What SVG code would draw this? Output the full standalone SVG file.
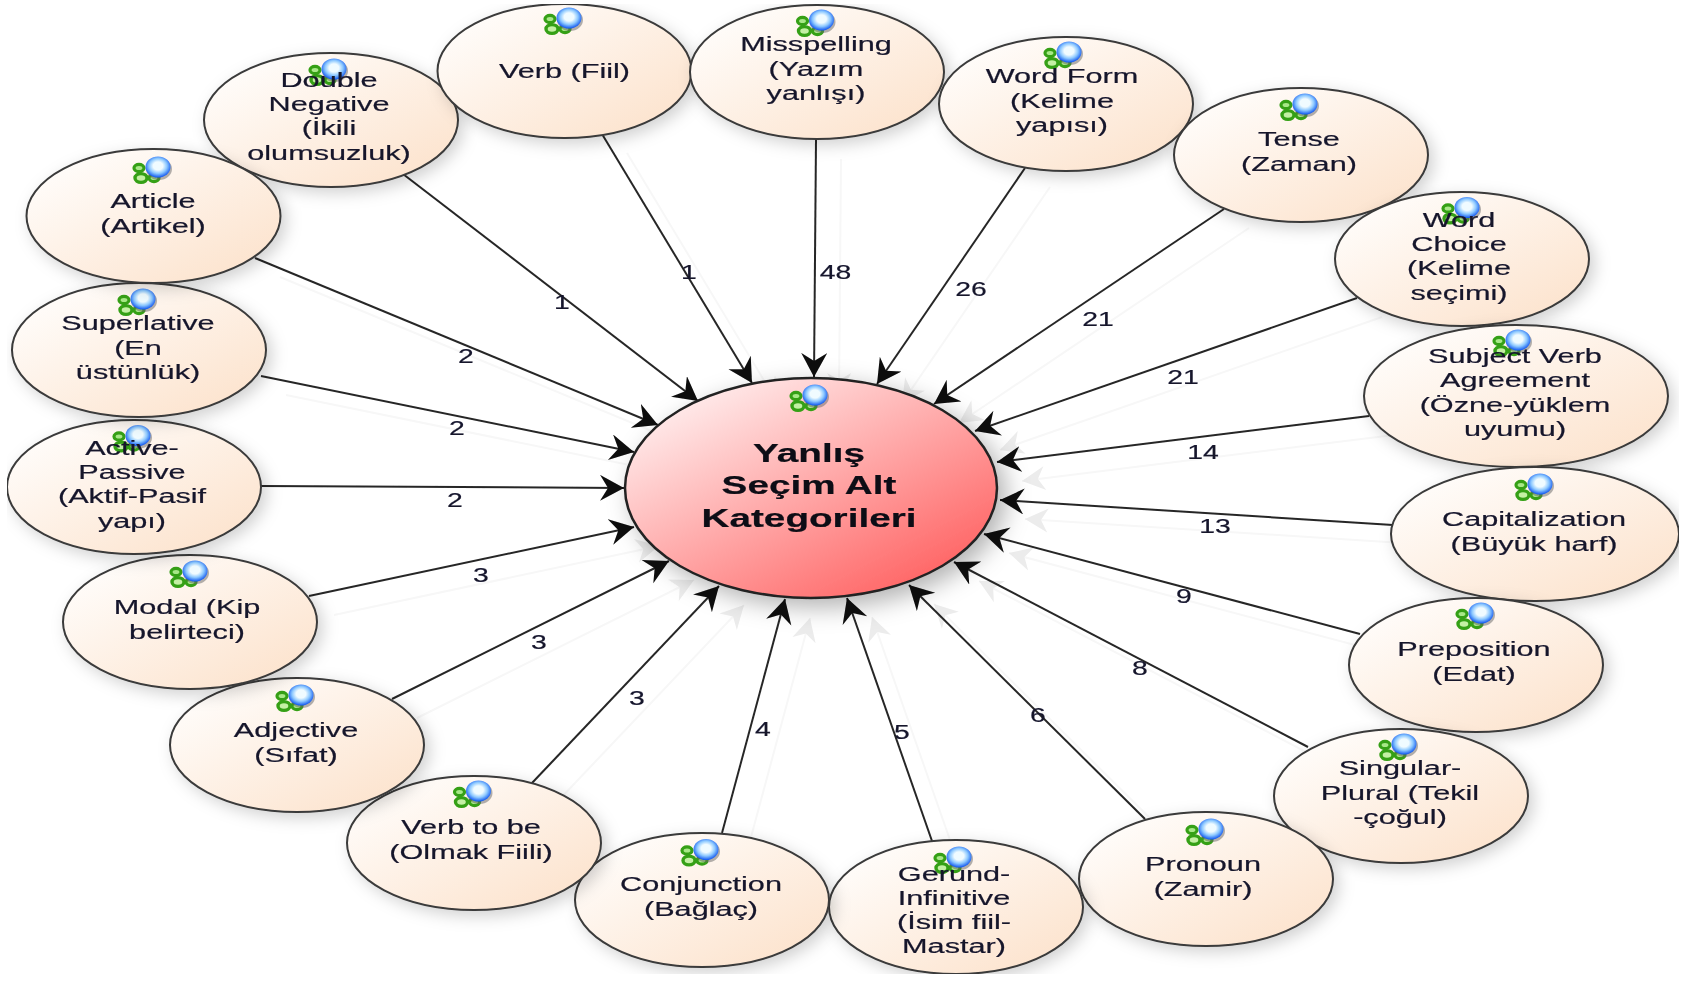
<svg xmlns="http://www.w3.org/2000/svg" xmlns:xlink="http://www.w3.org/1999/xlink" width="1686" height="987" viewBox="0 0 1686 987">
<style>
text{font-family:"Liberation Sans",Arial,sans-serif;font-size:21px;fill:#14142c;stroke:#14142c;stroke-width:0.2;text-anchor:middle}
.n{fill:url(#ng);stroke:#3a3a3a;stroke-width:2;filter:url(#sh)}
.c{fill:url(#cg);stroke:#222;stroke-width:2.5;filter:url(#sh2)}
.e line{stroke:#262626;stroke-width:2;marker-end:url(#a)}
.g line{stroke:#f7f7f7;stroke-width:2;marker-end:url(#ag)}
.t{font-weight:bold;font-size:26.5px;fill:#0c0c14;stroke:#0c0c14}
</style>
<defs>
<linearGradient id="ng" x1="0" y1="0" x2="1" y2="1"><stop offset="0.1" stop-color="#fffdfb"/><stop offset="1" stop-color="#fce0c8"/></linearGradient>
<linearGradient id="cg" x1="0.1" y1="0.05" x2="0.9" y2="0.95"><stop offset="0" stop-color="#fff4f4"/><stop offset="1" stop-color="#ff5c5c"/></linearGradient>
<radialGradient id="bl" cx="0.5" cy="0.45" r="0.55"><stop offset="0.35" stop-color="#f0fbff"/><stop offset="0.65" stop-color="#8cc8ff"/><stop offset="1" stop-color="#0f55f0"/></radialGradient>
<filter id="sh" x="-20%" y="-20%" width="150%" height="150%"><feDropShadow dx="5" dy="5" stdDeviation="8" flood-color="#000" flood-opacity="0.18"/></filter>
<filter id="sh2" x="-20%" y="-20%" width="150%" height="150%"><feDropShadow dx="8" dy="8" stdDeviation="12" flood-color="#000" flood-opacity="0.3"/></filter>
<filter id="soft" x="0" y="0" width="100%" height="100%"><feGaussianBlur stdDeviation="0.55"/></filter>
<marker id="a" markerUnits="userSpaceOnUse" markerWidth="30" markerHeight="30" refX="24" refY="13" orient="auto"><path d="M24,13 L0,0 L8,13 L0,26 Z" fill="#0a0a0a"/></marker>
<marker id="ag" markerUnits="userSpaceOnUse" markerWidth="30" markerHeight="30" refX="24" refY="13" orient="auto"><path d="M24,13 L1,1 L8,13 L1,25 Z" fill="#ececec"/></marker>
<g id="icon">
<ellipse cx="-19" cy="1" rx="5" ry="3.6" fill="#a8e888" stroke="#35a015" stroke-width="3.2"/>
<ellipse cx="-17" cy="11" rx="6" ry="4.4" fill="#c4f0a4" stroke="#35a015" stroke-width="3.4"/>
<ellipse cx="-4" cy="11" rx="5" ry="3.6" fill="#a8e888" stroke="#35a015" stroke-width="3.2"/>
<ellipse cx="1" cy="2" rx="13" ry="11" fill="#666" opacity="0.5"/>
<ellipse cx="0" cy="0" rx="12.5" ry="10.5" fill="url(#bl)"/>
</g>
</defs>
<rect width="1686" height="987" fill="#fff"/>
<g filter="url(#soft)">
<g id="connector-shadows" class="g">
<line x1="280" y1="277" x2="683" y2="444"/>
<line x1="286" y1="395" x2="659" y2="471"/>
<line x1="334" y1="615" x2="659" y2="546"/>
<line x1="417" y1="718" x2="694" y2="580"/>
<line x1="557" y1="802" x2="744" y2="605"/>
<line x1="747" y1="852" x2="810" y2="618"/>
<line x1="957" y1="860" x2="872" y2="617"/>
<line x1="1170" y1="838" x2="934" y2="604"/>
<line x1="1333" y1="766" x2="979" y2="581"/>
<line x1="1385" y1="653" x2="1009" y2="553"/>
<line x1="1418" y1="544" x2="1025" y2="519"/>
<line x1="1394" y1="435" x2="1022" y2="481"/>
<line x1="1382" y1="317" x2="1000" y2="450"/>
<line x1="1249" y1="228" x2="959" y2="423"/>
<line x1="1050" y1="187" x2="902" y2="403"/>
<line x1="841" y1="159" x2="839" y2="396"/>
<line x1="627" y1="153" x2="777" y2="402"/>
<line x1="428" y1="193" x2="723" y2="420"/>
</g>
<g id="connectors" class="e">
<line x1="255" y1="258" x2="658" y2="425"/>
<line x1="261" y1="376" x2="634" y2="452"/>
<line x1="261" y1="486" x2="624" y2="488"/>
<line x1="309" y1="596" x2="634" y2="527"/>
<line x1="392" y1="699" x2="669" y2="561"/>
<line x1="532" y1="783" x2="719" y2="586"/>
<line x1="722" y1="833" x2="785" y2="599"/>
<line x1="932" y1="841" x2="847" y2="598"/>
<line x1="1145" y1="819" x2="909" y2="585"/>
<line x1="1308" y1="747" x2="954" y2="562"/>
<line x1="1360" y1="634" x2="984" y2="534"/>
<line x1="1393" y1="525" x2="1000" y2="500"/>
<line x1="1369" y1="416" x2="997" y2="462"/>
<line x1="1357" y1="298" x2="975" y2="431"/>
<line x1="1224" y1="209" x2="934" y2="404"/>
<line x1="1025" y1="168" x2="877" y2="384"/>
<line x1="816" y1="140" x2="814" y2="377"/>
<line x1="602" y1="134" x2="752" y2="383"/>
<line x1="403" y1="174" x2="698" y2="401"/>
</g>
<g id="connector-labels">
<text transform="translate(562,309) scale(1.35,1)">1</text>
<text transform="translate(689,279) scale(1.35,1)">1</text>
<text transform="translate(835.5,279) scale(1.35,1)">48</text>
<text transform="translate(971,296) scale(1.35,1)">26</text>
<text transform="translate(1098,326) scale(1.35,1)">21</text>
<text transform="translate(1183,384) scale(1.35,1)">21</text>
<text transform="translate(1203,459) scale(1.35,1)">14</text>
<text transform="translate(1215,533) scale(1.35,1)">13</text>
<text transform="translate(1184,603) scale(1.35,1)">9</text>
<text transform="translate(1140,675) scale(1.35,1)">8</text>
<text transform="translate(1038,722) scale(1.35,1)">6</text>
<text transform="translate(902,739) scale(1.35,1)">5</text>
<text transform="translate(763,736) scale(1.35,1)">4</text>
<text transform="translate(637,705) scale(1.35,1)">3</text>
<text transform="translate(539,649) scale(1.35,1)">3</text>
<text transform="translate(481,582) scale(1.35,1)">3</text>
<text transform="translate(455,507) scale(1.35,1)">2</text>
<text transform="translate(457,435) scale(1.35,1)">2</text>
<text transform="translate(466,363) scale(1.35,1)">2</text>
</g>
<g id="node-center"><ellipse class="c" cx="811" cy="488" rx="186" ry="110"/><use href="#icon" x="815" y="395"/>
<text class="t" transform="translate(809,462) scale(1.46,1)"><tspan x="0" y="0">Yanlış</tspan><tspan x="0" y="32">Seçim Alt</tspan><tspan x="0" y="65">Kategorileri</tspan></text></g>
<g id="node-double"><ellipse class="n" cx="331" cy="120" rx="127" ry="67"/><use href="#icon" x="334" y="69"/>
<text transform="translate(329,87) scale(1.46,1)"><tspan x="0" y="0">Double</tspan><tspan x="0" y="24">Negative</tspan><tspan x="0" y="48.5">(İkili</tspan><tspan x="0" y="73">olumsuzluk)</tspan></text></g>
<g id="node-verb"><ellipse class="n" cx="564.5" cy="71" rx="127" ry="67"/><use href="#icon" x="569" y="18"/>
<text transform="translate(564.5,78) scale(1.46,1)">Verb (Fiil)</text></g>
<g id="node-misspelling"><ellipse class="n" cx="817" cy="72" rx="127" ry="67"/><use href="#icon" x="821.5" y="20"/>
<text transform="translate(816,51) scale(1.46,1)"><tspan x="0" y="0">Misspelling</tspan><tspan x="0" y="24.7">(Yazım</tspan><tspan x="0" y="49.4">yanlışı)</tspan></text></g>
<g id="node-wordform"><ellipse class="n" cx="1066" cy="104" rx="127" ry="67"/><use href="#icon" x="1069" y="52"/>
<text transform="translate(1062,83) scale(1.46,1)"><tspan x="0" y="0">Word Form</tspan><tspan x="0" y="24.7">(Kelime</tspan><tspan x="0" y="49.4">yapısı)</tspan></text></g>
<g id="node-tense"><ellipse class="n" cx="1301" cy="155" rx="127" ry="67"/><use href="#icon" x="1305" y="104"/>
<text transform="translate(1299,146) scale(1.46,1)"><tspan x="0" y="0">Tense</tspan><tspan x="0" y="24.7">(Zaman)</tspan></text></g>
<g id="node-wordchoice"><ellipse class="n" cx="1462" cy="259" rx="127" ry="67"/><use href="#icon" x="1467" y="207.5"/>
<text transform="translate(1459,227) scale(1.46,1)"><tspan x="0" y="0">Word</tspan><tspan x="0" y="24">Choice</tspan><tspan x="0" y="48.5">(Kelime</tspan><tspan x="0" y="73">seçimi)</tspan></text></g>
<g id="node-subject"><ellipse class="n" cx="1516" cy="396" rx="152" ry="71"/><use href="#icon" x="1518" y="340"/>
<text transform="translate(1515,363) scale(1.46,1)"><tspan x="0" y="0">Subject Verb</tspan><tspan x="0" y="24.5">Agreement</tspan><tspan x="0" y="49">(Özne-yüklem</tspan><tspan x="0" y="73">uyumu)</tspan></text></g>
<g id="node-capitalization"><ellipse class="n" cx="1535" cy="534" rx="144" ry="67"/><use href="#icon" x="1540" y="484"/>
<text transform="translate(1534,526) scale(1.46,1)"><tspan x="0" y="0">Capitalization</tspan><tspan x="0" y="24.7">(Büyük harf)</tspan></text></g>
<g id="node-preposition"><ellipse class="n" cx="1476" cy="665" rx="127" ry="67"/><use href="#icon" x="1481" y="613"/>
<text transform="translate(1474,656) scale(1.46,1)"><tspan x="0" y="0">Preposition</tspan><tspan x="0" y="24.7">(Edat)</tspan></text></g>
<g id="node-singular"><ellipse class="n" cx="1401" cy="796" rx="127" ry="67"/><use href="#icon" x="1404" y="744"/>
<text transform="translate(1400,775) scale(1.46,1)"><tspan x="0" y="0">Singular-</tspan><tspan x="0" y="24.7">Plural (Tekil</tspan><tspan x="0" y="49.4">-çoğul)</tspan></text></g>
<g id="node-pronoun"><ellipse class="n" cx="1206" cy="879" rx="127" ry="67"/><use href="#icon" x="1211" y="829"/>
<text transform="translate(1203,871) scale(1.46,1)"><tspan x="0" y="0">Pronoun</tspan><tspan x="0" y="24.7">(Zamir)</tspan></text></g>
<g id="node-gerund"><ellipse class="n" cx="956" cy="907" rx="127" ry="67"/><use href="#icon" x="959" y="857"/>
<text transform="translate(954,881) scale(1.46,1)"><tspan x="0" y="0">Gerund-</tspan><tspan x="0" y="24">Infinitive</tspan><tspan x="0" y="48.5">(İsim fiil-</tspan><tspan x="0" y="72.5">Mastar)</tspan></text></g>
<g id="node-conjunction"><ellipse class="n" cx="702" cy="900" rx="127" ry="67"/><use href="#icon" x="706" y="849.5"/>
<text transform="translate(701,891) scale(1.46,1)"><tspan x="0" y="0">Conjunction</tspan><tspan x="0" y="24.7">(Bağlaç)</tspan></text></g>
<g id="node-verbtobe"><ellipse class="n" cx="474" cy="843" rx="127" ry="67"/><use href="#icon" x="478.5" y="791"/>
<text transform="translate(471,834) scale(1.46,1)"><tspan x="0" y="0">Verb to be</tspan><tspan x="0" y="24.7">(Olmak Fiili)</tspan></text></g>
<g id="node-adjective"><ellipse class="n" cx="297" cy="745" rx="127" ry="67"/><use href="#icon" x="301" y="695"/>
<text transform="translate(296,737) scale(1.46,1)"><tspan x="0" y="0">Adjective</tspan><tspan x="0" y="24.7">(Sıfat)</tspan></text></g>
<g id="node-modal"><ellipse class="n" cx="190" cy="622" rx="127" ry="67"/><use href="#icon" x="195" y="571"/>
<text transform="translate(187,614) scale(1.46,1)"><tspan x="0" y="0">Modal (Kip</tspan><tspan x="0" y="24.7">belirteci)</tspan></text></g>
<g id="node-active"><ellipse class="n" cx="134" cy="487" rx="127" ry="67"/><use href="#icon" x="138" y="435.5"/>
<text transform="translate(132,455) scale(1.46,1)"><tspan x="0" y="0">Active-</tspan><tspan x="0" y="24">Passive</tspan><tspan x="0" y="48.5">(Aktif-Pasif</tspan><tspan x="0" y="73">yapı)</tspan></text></g>
<g id="node-superlative"><ellipse class="n" cx="139" cy="350" rx="127" ry="67"/><use href="#icon" x="143" y="299"/>
<text transform="translate(138,330) scale(1.46,1)"><tspan x="0" y="0">Superlative</tspan><tspan x="0" y="24.7">(En</tspan><tspan x="0" y="49.4">üstünlük)</tspan></text></g>
<g id="node-article"><ellipse class="n" cx="153.5" cy="216" rx="127" ry="67"/><use href="#icon" x="158" y="167"/>
<text transform="translate(153,208) scale(1.46,1)"><tspan x="0" y="0">Article</tspan><tspan x="0" y="24.7">(Artikel)</tspan></text></g>
</g>
</svg>
